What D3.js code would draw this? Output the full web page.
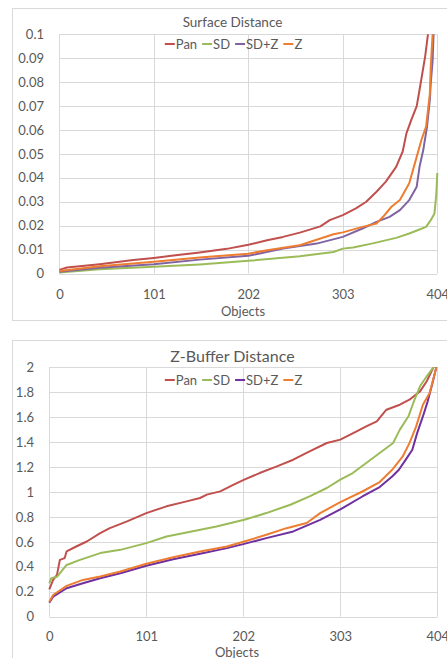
<!DOCTYPE html>
<html><head><meta charset="utf-8">
<script src="https://cdn.jsdelivr.net/npm/d3@7"></script>
<style>
html,body{margin:0;padding:0;background:#fff;}
svg{display:block;}
text{font-family:Lato,"Open Sans",sans-serif;fill:#595959;}
</style></head>
<body>
<svg id="c" width="447" height="658"></svg>
<script>
// ---------- DATA ----------
const seriesNames = ["Pan", "SD", "SD+Z", "Z"];
const xTickLabels = [0, 101, 202, 303, 404];
const surfYTicks = [0, 0.01, 0.02, 0.03, 0.04, 0.05, 0.06, 0.07, 0.08, 0.09, 0.1];
const zbYTicks = [0, 0.2, 0.4, 0.6, 0.8, 1, 1.2, 1.4, 1.6, 1.8, 2];

// Surface Distance
const surfPanIdx = [0,8,43,79,101,122,150,179,202,222,239,257,279,289,303,317,328,339,349,360,367,371,376,382,385,388,391,394,397];
const surfPanVal = [0.0015,0.0025,0.0039,0.0056,0.0065,0.0075,0.0088,0.0103,0.012,0.0139,0.0153,0.0171,0.0197,0.0223,0.0244,0.0272,0.030,0.0342,0.0384,0.0446,0.051,0.0586,0.064,0.070,0.0767,0.0837,0.0907,0.1,0.11];
const surfSDIdx = [0,43,101,150,202,257,293,303,314,335,360,374,385,392,397,401,403,404];
const surfSDVal = [0.0004,0.0018,0.0028,0.0038,0.0053,0.0072,0.009,0.0104,0.0109,0.0126,0.0149,0.0167,0.0184,0.0195,0.0223,0.0251,0.0335,0.042];
const surfSDZIdx = [0,43,101,150,202,239,275,303,324,339,353,364,374,382,385,389,393,396,397,399,400,402];
const surfSDZVal = [0.0007,0.0024,0.0039,0.0058,0.0074,0.0104,0.0125,0.0153,0.0188,0.0216,0.0237,0.0265,0.0307,0.0363,0.0446,0.0516,0.0614,0.0725,0.0795,0.089,0.1,0.12];
const surfZIdx = [0,43,101,150,202,222,257,293,303,324,339,346,355,364,374,381,387,392,396,397,399,401];
const surfZVal = [0.001,0.003,0.0049,0.0067,0.0083,0.0097,0.0118,0.0164,0.0172,0.0195,0.0209,0.0237,0.0279,0.0307,0.0377,0.0474,0.0558,0.0614,0.075,0.0865,0.1,0.12];

// Z-Buffer Distance
const zbPanIdx = [0,4,8,11,16,18,28,39,53,63,81,101,122,143,157,164,178,192,203,219,237,254,271,289,303,320,330,341,351,365,375,386,393,400,404];
const zbPanVal = [0.22,0.295,0.335,0.456,0.47,0.523,0.563,0.603,0.67,0.71,0.764,0.831,0.885,0.925,0.952,0.979,1.005,1.059,1.099,1.152,1.206,1.259,1.326,1.393,1.42,1.487,1.527,1.567,1.66,1.70,1.74,1.807,1.888,2.0,2.1];
const zbSDIdx = [0,2,8,18,32,53,74,101,122,143,174,203,226,251,271,289,303,316,330,344,358,365,374,379,386,393,400,404];
const zbSDVal = [0.268,0.308,0.32,0.415,0.456,0.51,0.536,0.59,0.643,0.676,0.724,0.777,0.831,0.898,0.965,1.032,1.099,1.152,1.233,1.313,1.393,1.5,1.607,1.714,1.848,1.928,2.0,2.1];
const zbSDZIdx = [0,4,18,35,53,74,101,129,157,185,203,226,254,282,303,326,344,357,364,371,378,383,389,394,399,403,404];
const zbSDZVal = [0.113,0.161,0.228,0.268,0.308,0.349,0.408,0.461,0.504,0.55,0.584,0.63,0.684,0.777,0.86,0.964,1.04,1.124,1.178,1.258,1.339,1.472,1.606,1.727,1.874,2.0,2.05];
const zbZIdx = [0,4,18,35,53,74,101,129,157,185,203,226,247,268,282,303,326,344,357,368,375,382,389,396,401,403,404];
const zbZVal = [0.12,0.174,0.247,0.295,0.322,0.362,0.424,0.477,0.523,0.563,0.603,0.657,0.71,0.751,0.831,0.918,1.004,1.08,1.178,1.285,1.392,1.526,1.70,1.794,1.94,2.0,2.05];

// ---------- DRAW ----------
const svg = d3.select("#c");
const grid = "#d9d9d9";

function chart(cfg) {
  const g = svg.append("g");
  // frame
  g.append("rect").attr("x", 12.5).attr("y", cfg.top + 0.5).attr("width", 460).attr("height", cfg.frameH)
    .attr("fill", "#fff").attr("stroke", grid).attr("stroke-width", 1);

  const x = d3.scaleLinear().domain([0, 404]).range([cfg.left, 437.3]);
  const y = d3.scaleLinear().domain([0, cfg.yMax]).range([cfg.bottom, cfg.plotTop]);

  // gridlines
  g.append("g").selectAll("line").data(cfg.yTicks).join("line")
    .attr("x1", cfg.left).attr("x2", 437.3)
    .attr("y1", d => Math.round(y(d)) + 0.5).attr("y2", d => Math.round(y(d)) + 0.5)
    .attr("stroke", grid);
  g.append("g").selectAll("line").data(xTickLabels).join("line")
    .attr("y1", cfg.plotTop).attr("y2", cfg.bottom)
    .attr("x1", d => Math.round(x(d)) + 0.5).attr("x2", d => Math.round(x(d)) + 0.5)
    .attr("stroke", grid);

  // y axis labels
  const yAxis = d3.axisLeft(y).tickValues(cfg.yTicks).tickSize(0).tickPadding(0)
    .tickFormat(d3.format("~g"));
  const ya = g.append("g").attr("transform", `translate(${cfg.yLabelRight},0)`).call(yAxis);
  ya.select(".domain").remove();
  ya.selectAll("text").attr("font-size", 13).attr("fill", "#595959")
    .style("font-family", "Lato, sans-serif");

  // x axis labels
  const xAxis = d3.axisBottom(x).tickValues(xTickLabels).tickSize(0).tickPadding(0)
    .tickFormat(d3.format("d"));
  const xa = g.append("g").attr("transform", `translate(0,${cfg.xLabelY})`).call(xAxis);
  xa.select(".domain").remove();
  xa.selectAll("text").attr("font-size", 13).attr("fill", "#595959").attr("dy", "0.35em")
    .style("font-family", "Lato, sans-serif");

  // clip
  const cid = "clip" + cfg.top;
  g.append("clipPath").attr("id", cid).append("rect")
    .attr("x", cfg.left - 2).attr("y", cfg.plotTop).attr("width", 437.3 - cfg.left + 4)
    .attr("height", cfg.bottom - cfg.plotTop + 2);

  const line = d3.line().x(d => x(d[0])).y(d => y(d[1]));
  const lg = g.append("g").attr("clip-path", `url(#${cid})`);
  cfg.series.forEach(s => {
    const pts = s.idx.map((v, i) => [v, s.val[i]]);
    lg.append("path").datum(pts).attr("d", line).attr("fill", "none")
      .attr("stroke", s.color).attr("stroke-width", 2).attr("stroke-linejoin", "round");
  });

  // title
  g.append("text").attr("x", 232.5).attr("y", cfg.titleY).attr("text-anchor", "middle")
    .attr("dominant-baseline", "central").attr("font-size", cfg.titleSize).text(cfg.title);

  // x axis title
  g.append("text").attr("x", cfg.objX).attr("y", cfg.objY).attr("text-anchor", "middle")
    .attr("dominant-baseline", "central").attr("font-size", 13).text("Objects");

  // legend
  const leg = g.append("g");
  let cx = 0;
  cfg.series.forEach((s, i) => {
    leg.append("line").attr("x1", cx).attr("x2", cx + 10).attr("y1", 0).attr("y2", 0)
      .attr("stroke", s.color).attr("stroke-width", 2);
    const t = leg.append("text").attr("x", cx + 11).attr("y", 0).attr("dominant-baseline", "central")
      .attr("font-size", 13).text(s.name);
    cx += 11 + t.node().getComputedTextLength() + 5;
  });
  const w = cx - 5;
  leg.attr("transform", `translate(${233.5 - w / 2},${cfg.legY})`);
}

chart({
  top: 8, frameH: 312, plotTop: 34.3, bottom: 273.5, left: 59.4, yMax: 0.1,
  yTicks: surfYTicks, yLabelRight: 44, xLabelY: 294, objX: 243, objY: 311,
  title: "Surface Distance", titleY: 22, titleSize: 13.5, legY: 44,
  series: [
    {name: seriesNames[0], idx: surfPanIdx, val: surfPanVal, color: "#C0504D"},
    {name: seriesNames[1], idx: surfSDIdx, val: surfSDVal, color: "#9BBB59"},
    {name: seriesNames[2], idx: surfSDZIdx, val: surfSDZVal, color: "#8064A2"},
    {name: seriesNames[3], idx: surfZIdx, val: surfZVal, color: "#ED7D31"}
  ]
});

chart({
  top: 340, frameH: 330, plotTop: 367.3, bottom: 616.7, left: 49.3, yMax: 2,
  yTicks: zbYTicks, yLabelRight: 34, xLabelY: 636, objX: 237, objY: 652,
  title: "Z-Buffer Distance", titleY: 355, titleSize: 16, legY: 380,
  series: [
    {name: seriesNames[0], idx: zbPanIdx, val: zbPanVal, color: "#C0504D"},
    {name: seriesNames[1], idx: zbSDIdx, val: zbSDVal, color: "#9BBB59"},
    {name: seriesNames[2], idx: zbSDZIdx, val: zbSDZVal, color: "#7030A0"},
    {name: seriesNames[3], idx: zbZIdx, val: zbZVal, color: "#ED7D31"}
  ]
});
</script>
</body></html>
